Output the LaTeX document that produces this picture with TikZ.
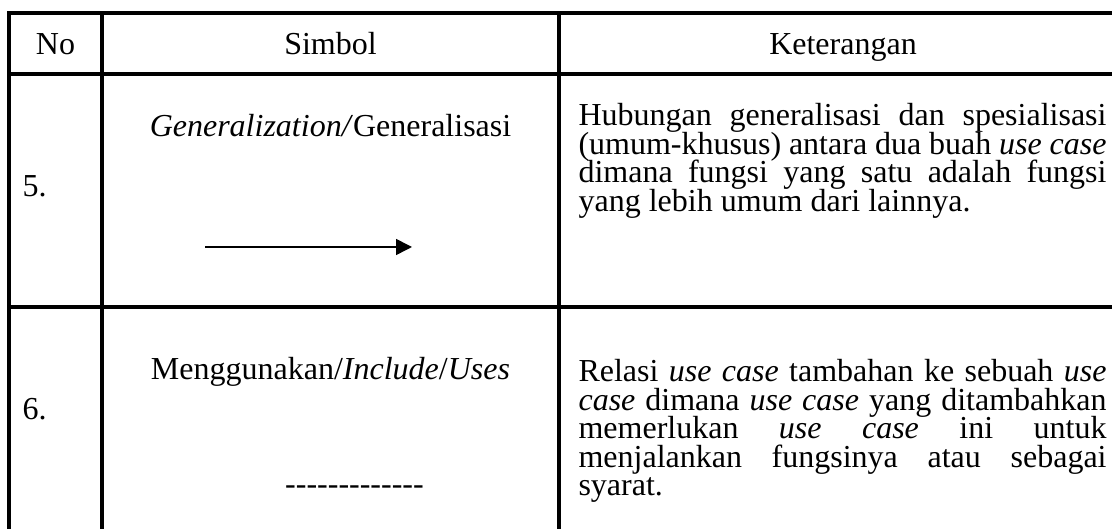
\documentclass[tikz,border=0pt]{standalone}
\usepackage{fontspec}
\setmainfont{Liberation Serif}
\usetikzlibrary{arrows.meta}
\newcommand{\jline}[1]{\makebox[198pt][s]{#1}}
\tikzset{
  rule/.style={line width=1.25pt, line cap=rect},
  celltext/.style={font=\fontsize{12pt}{14pt}\selectfont, inner sep=0pt},
  descline/.style={celltext, anchor=base west},
  genarrow/.style={line width=0.6pt, -{Triangle[length=6pt,width=6pt]}},
}
\begin{document}
\begin{tikzpicture}[x=0.375pt, y=-0.375pt]
\useasboundingbox (0,0) rectangle (1112,529);
% table rules
\draw[rule] (9,13) -- (1112,13);
\draw[rule] (9,74) -- (1112,74);
\draw[rule] (9,307) -- (1112,307);
\draw[rule] (9,13) -- (9,529);
\draw[rule] (102,13) -- (102,529);
\draw[rule] (559,13) -- (559,529);
% header
\node[celltext, anchor=base] (hno) at (55.5,55) {No};
\node[celltext, anchor=base] (hsim) at (330.5,55) {Simbol};
\node[celltext, anchor=base] (hket) at (843,55) {Keterangan};
% row 5
\node[celltext, anchor=base west] (n5) at (22,197) {5.};
\node[celltext, anchor=base] (s5) at (330.5,137) {\textit{Generalization/}Generalisasi};
\coordinate (a5s) at (205,247);
\coordinate (a5e) at (412,247);
\draw[genarrow] (a5s) -- (a5e);
\node[descline] (d5a) at (578,126) {\jline{Hubungan generalisasi dan spesialisasi}};
\node[descline] (d5b) at (578,154.5) {\jline{(umum-khusus) antara dua buah \textit{use case}}};
\node[descline] (d5c) at (578,183) {\jline{dimana fungsi yang satu adalah fungsi}};
\node[descline] (d5d) at (578,211.5) {yang lebih umum dari lainnya.};
% row 6
\node[celltext, anchor=base west] (n6) at (22,420) {6.};
\node[celltext, anchor=base] (s6) at (330.5,380) {Menggunakan/\textit{Include}/\textit{Uses}};
\node[celltext, anchor=base] (dash6) at (354.5,495) {-{}-{}-{}-{}-{}-{}-{}-{}-{}-{}-{}-{}-};
\node[descline] (d6a) at (578,382) {\jline{Relasi \textit{use case} tambahan ke sebuah \textit{use}}};
\node[descline] (d6b) at (578,410.5) {\jline{\textit{case} dimana \textit{use case} yang ditambahkan}};
\node[descline] (d6c) at (578,439) {\jline{memerlukan \textit{use case} ini untuk}};
\node[descline] (d6d) at (578,467.5) {\jline{menjalankan fungsinya atau sebagai}};
\node[descline] (d6e) at (578,496) {syarat.};
\end{tikzpicture}
\end{document}
